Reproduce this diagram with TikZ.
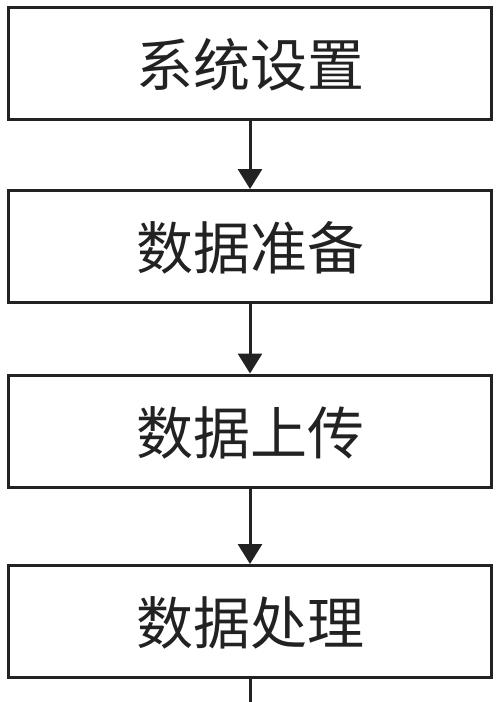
\documentclass[tikz,border=0pt]{standalone}
\usepackage{fontspec}
\newfontfamily\cjk{Noto Sans CJK SC}
\usetikzlibrary{arrows.meta}
\definecolor{ink}{HTML}{222222}
\begin{document}
\begin{tikzpicture}[x=1pt,y=-1pt,
  box/.style={draw=ink, line width=3pt, minimum width=483pt, minimum height=112pt, inner sep=0pt,
    text=ink, font=\cjk\fontsize{57}{62}\selectfont, text height=56pt, text depth=10pt},
  conn/.style={draw=ink, line width=3pt, -{Triangle[width=24pt,length=20pt]}},
  tail/.style={draw=ink, line width=3pt}]
\useasboundingbox (0,0) rectangle (500,702);
\node[box] (a) at (250,63.5) {系统设置};
\node[box] (b) at (250,246.5) {数据准备};
\node[box] (c) at (250,431) {数据上传};
\node[box] (d) at (250,621.5) {数据处理};
\coordinate (e) at (250,702);
\draw[conn] (a) -- (b);
\draw[conn] (b) -- (c);
\draw[conn] (c) -- (d);
\draw[tail] (d) -- (e);
\end{tikzpicture}
\end{document}
